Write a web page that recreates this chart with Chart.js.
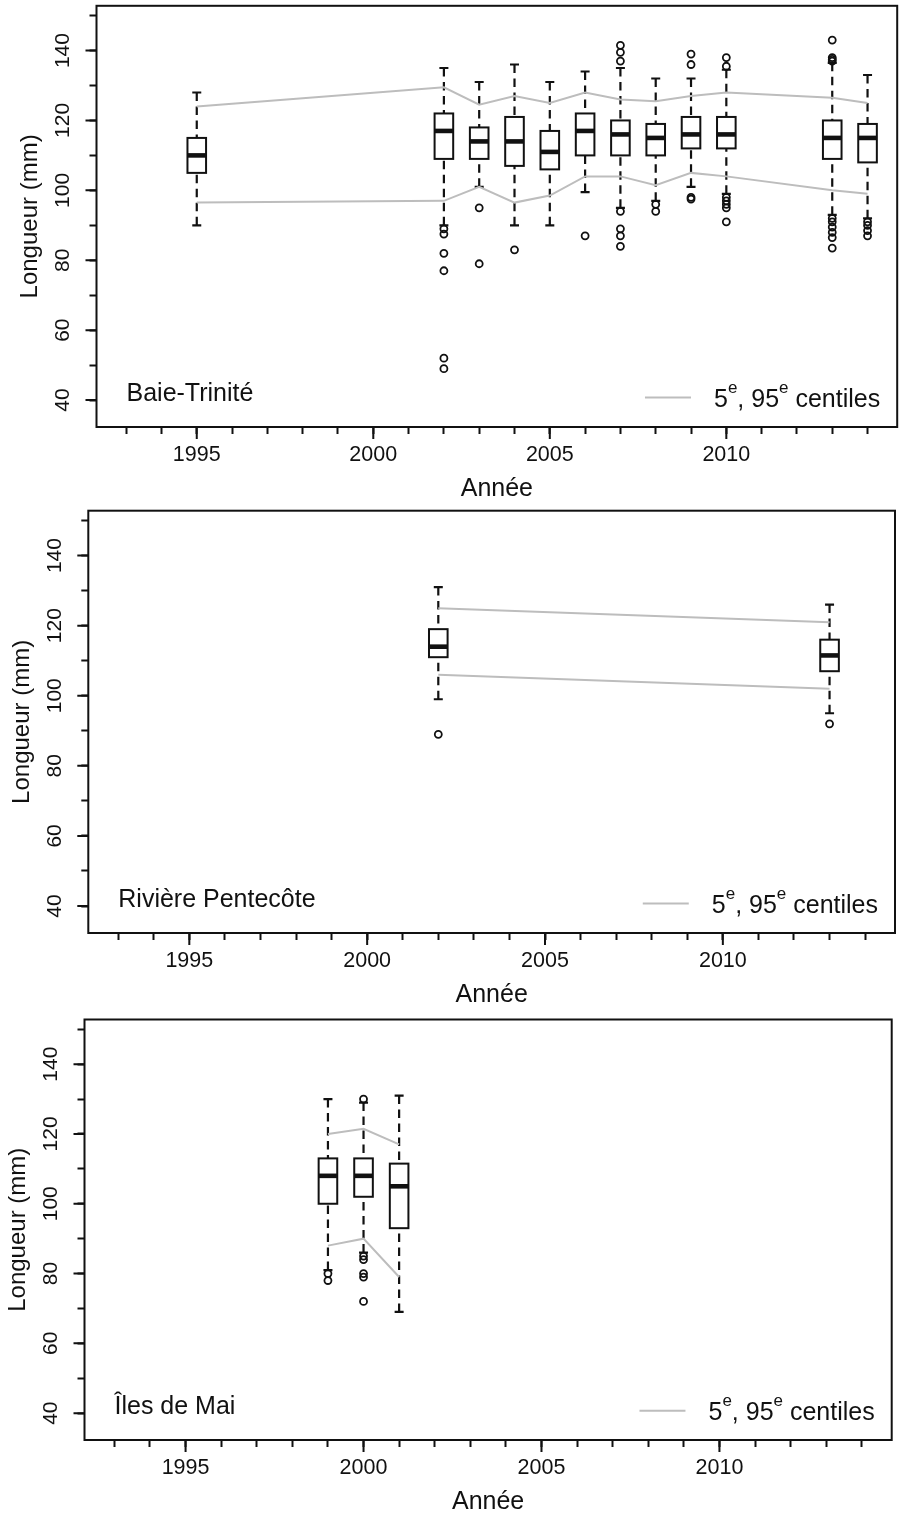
<!DOCTYPE html>
<html lang="fr">
<head>
<meta charset="utf-8">
<title>Longueur selon l'année</title>
<script src="https://cdn.jsdelivr.net/npm/chart.js@4.4.1/dist/chart.umd.min.js"></script>
<style>
  html, body { margin: 0; padding: 0; background: #fff; width: 903px; height: 1517px; overflow: hidden; }
  canvas { position: absolute; left: 0; }
</style>
</head>
<body>
<canvas id="panelBT"></canvas>
<canvas id="panelRP"></canvas>
<canvas id="panelIM"></canvas>
<script>
// ---- axis ticks ----
const yearLabels = [1995, 2000, 2005, 2010];
const yearTickMarks = [1993, 1994, 1995, 1996, 1997, 1998, 1999, 2000, 2001, 2002, 2003,
                       2004, 2005, 2006, 2007, 2008, 2009, 2010, 2011, 2012, 2013, 2014];
const lengthLabels = [40, 60, 80, 100, 120, 140];
const lengthTickMarks = [40, 50, 60, 70, 80, 90, 100, 110, 120, 130, 140, 150];

// ---- Baie-Trinité ----
const btYears   = [1995, 2002, 2003, 2004, 2005, 2006, 2007, 2008, 2009, 2010, 2013, 2014];
const btLow     = [90, 90, 101, 90, 90, 99.5, 95, 97, 101, 99, 93, 92];
const btQ1      = [105, 109, 109, 107, 106, 110, 110, 110, 112, 112, 109, 108];
const btMedian  = [110, 117, 114, 114, 111, 117, 116, 115, 116, 116, 115, 115];
const btQ3      = [115, 122, 118, 121, 117, 122, 120, 119, 121, 121, 120, 119];
const btHigh    = [128, 135, 131, 136, 131, 134, 135, 132, 132, 134.5, 136.5, 133];
const btP5      = [96.5, 97, 101, 96.5, 98.5, 104, 104, 101.5, 105, 104, 100, 99];
const btP95     = [124, 129.5, 124.5, 127, 125, 128, 126, 125.5, 127, 128, 126.5, 125];
const btOutYears  = [2002, 2002, 2002, 2002, 2002, 2002, 2003, 2003, 2004, 2006,
                     2007, 2007, 2007, 2007, 2007, 2007, 2007, 2008, 2008,
                     2009, 2009, 2009, 2009, 2010, 2010, 2010, 2010, 2010, 2010, 2010,
                     2013, 2013, 2013, 2013, 2013, 2013, 2013, 2013, 2013, 2013,
                     2014, 2014, 2014, 2014];
const btOutValues = [89, 87.5, 82, 77, 52, 49, 95, 79, 83, 87,
                     141.5, 139.5, 137, 94, 89, 87, 84, 96, 94,
                     139, 136, 98, 97.5, 138, 135.5, 98, 97, 96, 95, 91,
                     143, 138, 137.5, 137, 92, 91, 89.5, 88, 86.5, 83.5,
                     91, 90, 88.5, 87];

// ---- Rivière Pentecôte ----
const rpYears   = [2002, 2013];
const rpLow     = [99, 95];
const rpQ1      = [111, 107];
const rpMedian  = [114, 111.5];
const rpQ3      = [119, 116];
const rpHigh    = [131, 126];
const rpP5      = [106, 102];
const rpP95     = [125, 121];
const rpOutYears  = [2002, 2013];
const rpOutValues = [89, 92];

// ---- Îles de Mai ----
const imYears   = [1999, 2000, 2001];
const imLow     = [81, 86, 69];
const imQ1      = [100, 102, 93];
const imMedian  = [108, 108, 105];
const imQ3      = [113, 113, 111.5];
const imHigh    = [130, 129, 131];
const imP5      = [88, 90, 79];
const imP95     = [120, 121.5, 117];
const imOutYears  = [1999, 1999, 2000, 2000, 2000, 2000, 2000, 2000];
const imOutValues = [80, 78, 130, 85, 84, 80, 79, 72];

// ---- styling ----
const FONT = "'Liberation Sans', Arial, Helvetica, sans-serif";
const INK = '#111';
const GRAY = '#bdbdbd';
Chart.defaults.font.family = FONT;
Chart.defaults.color = INK;

const X_MIN = 1992.16, X_MAX = 2014.84;
const Y_MIN = 32.3, Y_MAX = 152.8;
const X_AXIS_HEIGHT = 77;

const sites = [
  { name: 'Baie-Trinité', years: btYears, low: btLow, q1: btQ1, median: btMedian, q3: btQ3, high: btHigh,
    p5: btP5, p95: btP95, outYears: btOutYears, outValues: btOutValues },
  { name: 'Rivière Pentecôte', years: rpYears, low: rpLow, q1: rpQ1, median: rpMedian, q3: rpQ3, high: rpHigh,
    p5: rpP5, p95: rpP95, outYears: rpOutYears, outValues: rpOutValues },
  { name: 'Îles de Mai', years: imYears, low: imLow, q1: imQ1, median: imMedian, q3: imQ3, high: imHigh,
    p5: imP5, p95: imP95, outYears: imOutYears, outValues: imOutValues }
];

// page placement of each panel (canvas top/height and plot-frame edges)
const layouts = [
  { canvasId: 'panelBT', top: 0,    height: 504, plotTop: 5,    left: 96.5, right: 901.2 },
  { canvasId: 'panelRP', top: 504,  height: 506, plotTop: 510.7, left: 88.3, right: 895 },
  { canvasId: 'panelIM', top: 1010, height: 507, plotTop: 1019.5, left: 84.5, right: 891.7 }
];

function boxesPlugin(site) {
  return {
    id: 'boxes',
    beforeDatasetsDraw(chart) {
      const { ctx, scales: { x, y } } = chart;
      const halfBox = 9.3, halfCap = 4.5;
      ctx.save();
      ctx.strokeStyle = INK;
      for (let i = 0; i < site.years.length; i++) {
        const cx = x.getPixelForValue(site.years[i]);
        const yLo = y.getPixelForValue(site.low[i]);
        const yQ1 = y.getPixelForValue(site.q1[i]);
        const yMed = y.getPixelForValue(site.median[i]);
        const yQ3 = y.getPixelForValue(site.q3[i]);
        const yHi = y.getPixelForValue(site.high[i]);
        // dashed whiskers, drawn from the whisker end towards the box
        ctx.lineWidth = 2.2;
        ctx.setLineDash([8.5, 5.5]);
        ctx.beginPath(); ctx.moveTo(cx, yHi); ctx.lineTo(cx, yQ3); ctx.stroke();
        ctx.beginPath(); ctx.moveTo(cx, yLo); ctx.lineTo(cx, yQ1); ctx.stroke();
        ctx.setLineDash([]);
        // staples
        ctx.beginPath();
        ctx.moveTo(cx - halfCap, yHi); ctx.lineTo(cx + halfCap, yHi);
        ctx.moveTo(cx - halfCap, yLo); ctx.lineTo(cx + halfCap, yLo);
        ctx.stroke();
        // box
        ctx.lineWidth = 2;
        ctx.fillStyle = '#fff';
        ctx.fillRect(cx - halfBox, yQ3, 2 * halfBox, yQ1 - yQ3);
        ctx.strokeRect(cx - halfBox, yQ3, 2 * halfBox, yQ1 - yQ3);
        // median
        ctx.lineWidth = 4.6;
        ctx.beginPath(); ctx.moveTo(cx - halfBox, yMed); ctx.lineTo(cx + halfBox, yMed); ctx.stroke();
      }
      ctx.restore();
    }
  };
}

function framePlugin(site) {
  return {
    id: 'frame',
    afterDraw(chart) {
      const { ctx, chartArea: a, scales: { x, y } } = chart;
      ctx.save();
      ctx.strokeStyle = INK;
      ctx.lineWidth = 2;
      ctx.strokeRect(a.left, a.top, a.right - a.left, a.bottom - a.top);

      // longer marks for labelled ticks
      ctx.beginPath();
      yearLabels.forEach(v => { const px = x.getPixelForValue(v); ctx.moveTo(px, a.bottom); ctx.lineTo(px, a.bottom + 12); });
      lengthLabels.forEach(v => { const py = y.getPixelForValue(v); ctx.moveTo(a.left - 11, py); ctx.lineTo(a.left, py); });
      ctx.stroke();

      // vertical labels of the length axis
      ctx.fillStyle = INK;
      ctx.font = `21px ${FONT}`;
      ctx.textAlign = 'center';
      ctx.textBaseline = 'middle';
      lengthLabels.forEach(v => {
        const py = y.getPixelForValue(v);
        ctx.save();
        ctx.translate(a.left - 33, py);
        ctx.rotate(-Math.PI / 2);
        ctx.fillText(String(v), 0, 0);
        ctx.restore();
      });

      // site name
      const base = y.getPixelForValue(40) + 0.5;
      ctx.font = `25px ${FONT}`;
      ctx.textAlign = 'left';
      ctx.textBaseline = 'alphabetic';
      ctx.fillText(site.name, a.left + 30, base);

      // key: grey line + "5e, 95e centiles"
      const parts = [['5', false], ['e', true], [', 95', false], ['e', true], [' centiles', false]];
      const mainFont = `25px ${FONT}`, supFont = `17px ${FONT}`;
      const widths = parts.map(([t, sup]) => { ctx.font = sup ? supFont : mainFont; return ctx.measureText(t).width; });
      const total = widths.reduce((s, w) => s + w, 0);
      const legBase = base + 6.5;
      let tx = a.right - 17 - total;
      ctx.strokeStyle = GRAY;
      ctx.lineWidth = 2;
      ctx.beginPath();
      ctx.moveTo(tx - 69, legBase - 9.5); ctx.lineTo(tx - 23, legBase - 9.5);
      ctx.stroke();
      parts.forEach(([t, sup], i) => {
        ctx.font = sup ? supFont : mainFont;
        ctx.fillText(t, tx, sup ? legBase - 14 : legBase);
        tx += widths[i];
      });
      ctx.restore();
    }
  };
}

function makePanel(site, lay) {
  const canvas = document.getElementById(lay.canvasId);
  canvas.width = 903;
  canvas.height = lay.height;
  canvas.style.top = lay.top + 'px';
  const titlePad = lay.left - 66 - 24 * 1.2 / 2;

  return new Chart(canvas, {
    type: 'scatter',
    data: {
      datasets: [
        { label: '95e centile', data: site.years.map((yr, i) => ({ x: yr, y: site.p95[i] })),
          showLine: true, borderColor: GRAY, borderWidth: 2, pointRadius: 0, tension: 0 },
        { label: '5e centile', data: site.years.map((yr, i) => ({ x: yr, y: site.p5[i] })),
          showLine: true, borderColor: GRAY, borderWidth: 2, pointRadius: 0, tension: 0 },
        { label: 'Valeurs extrêmes', data: site.outYears.map((yr, i) => ({ x: yr, y: site.outValues[i] })),
          pointStyle: 'circle', pointRadius: 3.5, borderWidth: 1.8,
          borderColor: INK, backgroundColor: 'rgba(0,0,0,0)' }
      ]
    },
    options: {
      responsive: false,
      maintainAspectRatio: false,
      devicePixelRatio: 1,
      animation: false,
      layout: { padding: { top: lay.plotTop - lay.top, right: 903 - lay.right, bottom: 0, left: 0 } },
      plugins: { legend: { display: false }, tooltip: { enabled: false } },
      scales: {
        x: {
          type: 'linear',
          min: X_MIN, max: X_MAX,
          afterBuildTicks: s => { s.ticks = yearTickMarks.map(v => ({ value: v })); },
          afterFit: s => { s.height = X_AXIS_HEIGHT; },
          ticks: {
            autoSkip: false, maxRotation: 0, minRotation: 0, padding: 8.4,
            font: { size: 21.5 }, color: INK,
            callback: v => yearLabels.includes(v) ? String(v) : ''
          },
          grid: { display: true, drawOnChartArea: false, drawTicks: true, tickLength: 7, tickWidth: 2, tickColor: INK },
          border: { display: false },
          title: { display: true, text: 'Année', font: { size: 25 }, color: INK, padding: { top: 0, bottom: 0 } }
        },
        y: {
          type: 'linear',
          min: Y_MIN, max: Y_MAX,
          afterBuildTicks: s => { s.ticks = lengthTickMarks.map(v => ({ value: v })); },
          afterFit: s => { s.width = lay.left; },
          ticks: { display: false },
          grid: { display: true, drawOnChartArea: false, drawTicks: true, tickLength: 7, tickWidth: 2, tickColor: INK },
          border: { display: false },
          title: { display: true, text: 'Longueur (mm)', font: { size: 24 }, color: INK, padding: { top: titlePad, bottom: 0 } }
        }
      }
    },
    plugins: [boxesPlugin(site), framePlugin(site)]
  });
}

sites.forEach((site, i) => makePanel(site, layouts[i]));
</script>
</body>
</html>
